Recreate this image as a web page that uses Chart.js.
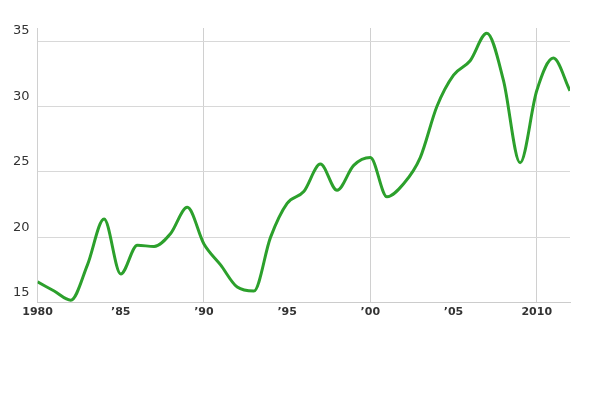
<!DOCTYPE html>
<html><head><script src="https://cdn.jsdelivr.net/npm/chart.js@4"></script>
<style>body{margin:0}#w{width:600px;height:400px}</style></head>
<body><div id="w"><canvas id="c"></canvas></div>
<script>
const years=[1980,1981,1982,1983,1984,1985,1986,1987,1988,1989,1990,1991,1992,1993,1994,1995,1996,1997,1998,1999,2000,2001,2002,2003,2004,2005,2006,2007,2008,2009,2010,2011,2012];
const values=[16.6,15.9,15.2,17.9,21.4,17.2,19.4,19.3,20.3,22.3,19.5,17.9,16.2,15.9,20,22.6,23.5,25.6,23.6,25.5,26.1,23.1,24.1,26.1,30,32.4,33.5,35.6,32,25.7,31.2,33.7,31.2];
const xTicks=[1980,1985,1990,1995,2000,2005,2010];
const xLabels=['1980',"\u201985","\u201990","\u201995","\u201900","\u201905",'2010'];
const yTicks=[15,20,25,30,35];
new Chart(document.getElementById('c'),{type:'line',
data:{datasets:[{data:years.map((y,i)=>({x:y,y:values[i]})),borderColor:'#2ca02c',borderWidth:3,pointRadius:0,tension:0.4,cubicInterpolationMode:'monotone',fill:false}]},
options:{animation:false,responsive:true,maintainAspectRatio:false,
layout:{padding:{left:5,right:30,top:28,bottom:78}},
plugins:{legend:{display:false},tooltip:{enabled:false}},
scales:{
x:{type:'linear',min:1980,max:2012,afterBuildTicks:a=>{a.ticks=xTicks.map(v=>({value:v}));},
ticks:{callback:v=>xLabels[xTicks.indexOf(v)],font:{family:'DejaVu Sans',size:11,weight:'bold'},color:'#333',maxRotation:0},
grid:{color:c=>(c.tick&&[1980,1990,2000,2010].includes(c.tick.value))?'#d0d0d0':'rgba(0,0,0,0)',drawTicks:false},border:{display:true,color:'#ccc'}},
y:{min:15,max:36,afterBuildTicks:a=>{a.ticks=yTicks.map(v=>({value:v}));},
ticks:{font:{family:'DejaVu Sans',size:13},color:'#333',labelOffset:-10,padding:8},
grid:{color:'#d8d8d8',drawTicks:false},border:{display:false}}}}});
</script></body></html>
